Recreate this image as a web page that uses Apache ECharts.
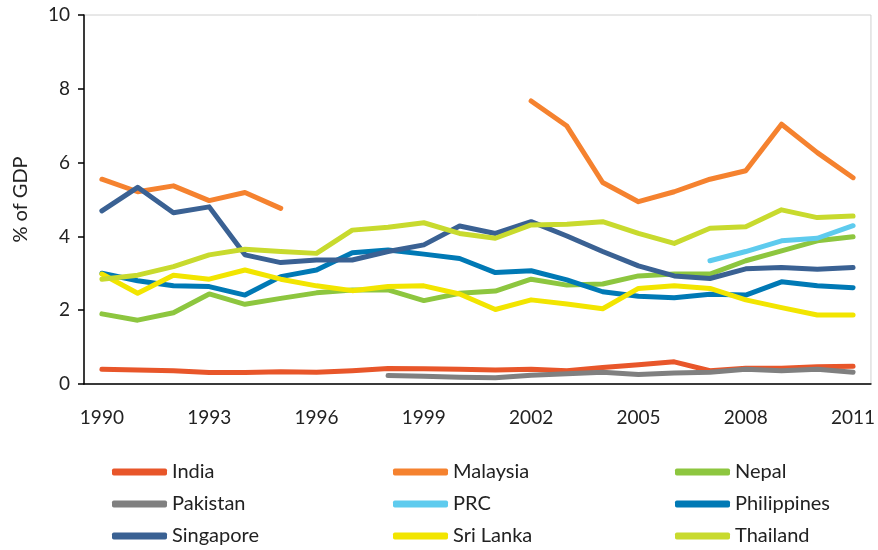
<!DOCTYPE html>
<html>
<head>
<meta charset="utf-8">
<script src="https://cdn.jsdelivr.net/npm/echarts@6/dist/echarts.min.js"></script>
<style>
  html, body { margin: 0; padding: 0; background: #fff; }
  #main { width: 878px; height: 550px; }
</style>
</head>
<body>
<div id="main"></div>
<script>
// years on the x axis
var years = ['1990', '1991', '1992', '1993', '1994', '1995', '1996', '1997', '1998', '1999', '2000',
    '2001', '2002', '2003', '2004', '2005', '2006', '2007', '2008', '2009', '2010', '2011'];

// % of GDP (null = no data)
var india = [0.40, 0.38, 0.36, 0.31, 0.31, 0.33, 0.32, 0.36, 0.42, 0.41, 0.40,
    0.38, 0.40, 0.36, 0.45, 0.52, 0.60, 0.36, 0.43, 0.43, 0.47, 0.48];
var malaysia = [5.55, 5.21, 5.37, 4.97, 5.19, 4.76, null, null, null, null, null,
    null, 7.67, 6.99, 5.46, 4.94, 5.21, 5.55, 5.78, 7.04, 6.27, 5.59];
var nepal = [1.90, 1.73, 1.93, 2.44, 2.16, 2.32, 2.47, 2.55, 2.55, 2.26, 2.46,
    2.52, 2.84, 2.68, 2.71, 2.93, 2.98, 2.98, 3.34, 3.61, 3.88, 3.99];
var pakistan = [null, null, null, null, null, null, null, null, 0.23, 0.21, 0.18,
    0.17, 0.24, 0.28, 0.32, 0.26, 0.30, 0.32, 0.40, 0.36, 0.40, 0.32];
var prc = [null, null, null, null, null, null, null, null, null, null, null,
    null, null, null, null, null, null, 3.34, 3.59, 3.88, 3.95, 4.29];
var philippines = [3.00, 2.80, 2.66, 2.64, 2.41, 2.91, 3.09, 3.56, 3.63, 3.52, 3.40,
    3.02, 3.07, 2.82, 2.50, 2.38, 2.34, 2.43, 2.41, 2.77, 2.66, 2.61];
var singapore = [4.69, 5.33, 4.64, 4.80, 3.50, 3.29, 3.36, 3.36, 3.59, 3.77, 4.28,
    4.08, 4.40, 4.01, 3.59, 3.20, 2.93, 2.86, 3.12, 3.16, 3.11, 3.16];
var sriLanka = [2.98, 2.46, 2.95, 2.84, 3.09, 2.84, 2.66, 2.53, 2.64, 2.66, 2.44,
    2.02, 2.28, 2.17, 2.04, 2.59, 2.66, 2.59, 2.28, 2.07, 1.87, 1.87];
var thailand = [2.84, 2.95, 3.18, 3.50, 3.65, 3.59, 3.54, 4.17, 4.25, 4.37, 4.08,
    3.95, 4.31, 4.33, 4.40, 4.08, 3.81, 4.22, 4.26, 4.72, 4.51, 4.55];

var names = ['India', 'Malaysia', 'Nepal', 'Pakistan', 'PRC', 'Philippines', 'Singapore', 'Sri Lanka', 'Thailand'];
var values = [india, malaysia, nepal, pakistan, prc, philippines, singapore, sriLanka, thailand];
var colors = ['#e8562a', '#f5822f', '#8dc63f', '#808080', '#5ecbee', '#0079b5', '#3a6193', '#f2e500', '#c8da2e'];

var font = 'Lato, "Open Sans", sans-serif';

var series = [];
for (var i = 0; i < names.length; i++) {
    series.push({
        name: names[i],
        type: 'line',
        data: values[i],
        symbol: 'none',
        connectNulls: false,
        lineStyle: { width: 5, color: colors[i], cap: 'round', join: 'round' },
        itemStyle: { color: colors[i] }
    });
}

// one legend per column
function legendCol(left, data) {
    return {
        orient: 'vertical',
        left: left,
        top: 461,
        height: 89,
        padding: 0,
        itemWidth: 55,
        itemHeight: 7,
        itemGap: 10,
        icon: 'roundRect',
        data: data,
        textStyle: { fontFamily: font, fontSize: 20, color: '#222', lineHeight: 22 }
    };
}

var chart = echarts.init(document.getElementById('main'));
chart.setOption({
    animation: false,
    color: colors,
    grid: {
        left: 84, top: 15, right: 2, bottom: 166,
        show: true, borderColor: '#d0d0d0', borderWidth: 1
    },
    legend: [
        legendCol(112, ['India', 'Pakistan', 'Singapore']),
        legendCol(393, ['Malaysia', 'PRC', 'Sri Lanka']),
        legendCol(675, ['Nepal', 'Philippines', 'Thailand'])
    ],
    xAxis: {
        type: 'category',
        data: years,
        boundaryGap: true,
        axisLine: { lineStyle: { color: '#000', width: 1.5 } },
        axisTick: { interval: 0, length: 6, lineStyle: { color: '#000', width: 1.5 } },
        axisLabel: { interval: 2, margin: 24, fontFamily: font, fontSize: 19, color: '#222' },
        splitLine: { show: false }
    },
    yAxis: {
        type: 'value',
        min: 0, max: 10, interval: 2,
        name: '% of GDP',
        nameLocation: 'middle',
        nameGap: 53,
        nameTextStyle: { fontFamily: font, fontSize: 20, color: '#222' },
        axisLine: { show: true, lineStyle: { color: '#000', width: 1.5 } },
        axisTick: { show: true, length: 6, lineStyle: { color: '#000', width: 1.5 } },
        axisLabel: { margin: 14, fontFamily: font, fontSize: 19, color: '#222' },
        splitLine: { show: false }
    },
    series: series
});
</script>
</body>
</html>
